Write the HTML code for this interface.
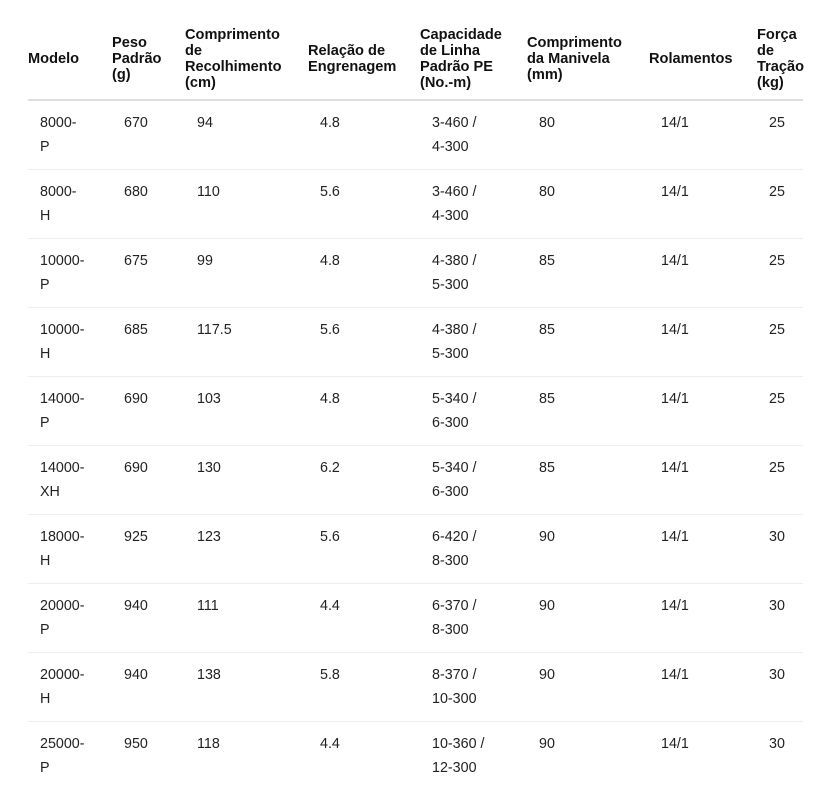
<!DOCTYPE html>
<html>
<head>
<meta charset="utf-8">
<style>
  html, body { margin:0; padding:0; background:#fff; }
  body { width:835px; height:797px; overflow:hidden; font-family:"Liberation Sans", Arial, sans-serif; }
  table { position:absolute; left:28px; top:19px; width:775px; border-collapse:collapse; table-layout:fixed; }
  th { font-weight:bold; font-size:14.6px; line-height:16px; color:#111; text-align:left; vertical-align:middle;
       padding:8px 0 8px 0; border-bottom:2px solid #dedede; white-space:nowrap; }
  td { font-size:14.3px; line-height:24px; color:#222; text-align:left; vertical-align:top;
       padding:10px 0 10px 12px; border-bottom:1px solid #eeeeee; white-space:nowrap; }
  tr:last-child td { border-bottom:none; }
</style>
</head>
<body>
<table>
  <colgroup>
    <col style="width:84px"><col style="width:73px"><col style="width:123px"><col style="width:112px">
    <col style="width:107px"><col style="width:122px"><col style="width:108px"><col style="width:46px">
  </colgroup>
  <thead>
    <tr>
      <th>Modelo</th>
      <th>Peso<br>Padrão<br>(g)</th>
      <th>Comprimento<br>de<br>Recolhimento<br>(cm)</th>
      <th>Relação de<br>Engrenagem</th>
      <th>Capacidade<br>de Linha<br>Padrão PE<br>(No.-m)</th>
      <th>Comprimento<br>da Manivela<br>(mm)</th>
      <th>Rolamentos</th>
      <th>Força<br>de<br>Tração<br>(kg)</th>
    </tr>
  </thead>
  <tbody>
    <tr><td>8000-<br>P</td><td>670</td><td>94</td><td>4.8</td><td>3-460 /<br>4-300</td><td>80</td><td>14/1</td><td>25</td></tr>
    <tr><td>8000-<br>H</td><td>680</td><td>110</td><td>5.6</td><td>3-460 /<br>4-300</td><td>80</td><td>14/1</td><td>25</td></tr>
    <tr><td>10000-<br>P</td><td>675</td><td>99</td><td>4.8</td><td>4-380 /<br>5-300</td><td>85</td><td>14/1</td><td>25</td></tr>
    <tr><td>10000-<br>H</td><td>685</td><td>117.5</td><td>5.6</td><td>4-380 /<br>5-300</td><td>85</td><td>14/1</td><td>25</td></tr>
    <tr><td>14000-<br>P</td><td>690</td><td>103</td><td>4.8</td><td>5-340 /<br>6-300</td><td>85</td><td>14/1</td><td>25</td></tr>
    <tr><td>14000-<br>XH</td><td>690</td><td>130</td><td>6.2</td><td>5-340 /<br>6-300</td><td>85</td><td>14/1</td><td>25</td></tr>
    <tr><td>18000-<br>H</td><td>925</td><td>123</td><td>5.6</td><td>6-420 /<br>8-300</td><td>90</td><td>14/1</td><td>30</td></tr>
    <tr><td>20000-<br>P</td><td>940</td><td>111</td><td>4.4</td><td>6-370 /<br>8-300</td><td>90</td><td>14/1</td><td>30</td></tr>
    <tr><td>20000-<br>H</td><td>940</td><td>138</td><td>5.8</td><td>8-370 /<br>10-300</td><td>90</td><td>14/1</td><td>30</td></tr>
    <tr><td>25000-<br>P</td><td>950</td><td>118</td><td>4.4</td><td>10-360 /<br>12-300</td><td>90</td><td>14/1</td><td>30</td></tr>
  </tbody>
</table>
</body>
</html>
